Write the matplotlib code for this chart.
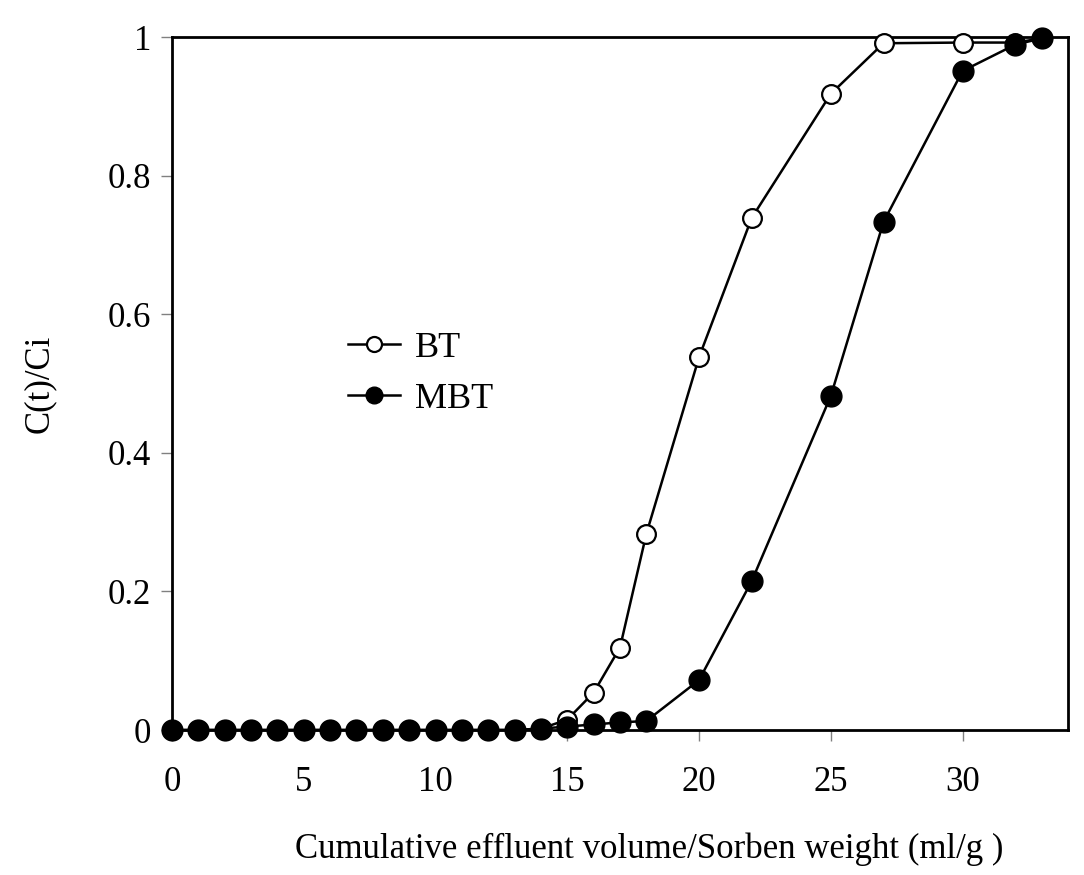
import numpy as np
import matplotlib.pyplot as plt

plt.rcParams['font.family'] = ['Liberation Serif', 'DejaVu Serif']

# data
x_vals = [0, 1, 2, 3, 4, 5, 6, 7, 8, 9, 10, 11, 12, 13, 14, 15, 16, 17, 18, 20, 22, 25, 27, 30, 32, 33]
bt = [0, 0, 0, 0, 0, 0, 0, 0, 0, 0, 0, 0, 0, 0, 0.002, 0.015, 0.054, 0.119, 0.283,
      0.538, 0.739, 0.918, 0.991, 0.992, 0.992, 0.998]
mbt = [0, 0, 0, 0, 0, 0, 0, 0, 0, 0, 0, 0, 0, 0, 0.002, 0.005, 0.008, 0.011, 0.013,
       0.072, 0.215, 0.482, 0.733, 0.951, 0.989, 0.998]
x_ticks = [0, 5, 10, 15, 20, 25, 30]
y_ticks = [0, 0.2, 0.4, 0.6, 0.8, 1]
y_ticklabels = ['0', '0.2', '0.4', '0.6', '0.8', '1']

fig = plt.figure(figsize=(10.84, 8.75), dpi=100)
ax = fig.add_axes([0.1587, 0.1657, 0.9852 - 0.1587, 0.9577 - 0.1657])

ax.plot(x_vals, bt, color='black', lw=1.8, marker='o', ms=13.5, mfc='white',
        mec='black', mew=1.6, clip_on=False, zorder=3, label='BT')
ax.plot(x_vals, mbt, color='black', lw=1.8, marker='o', ms=15, mfc='black',
        mec='black', clip_on=False, zorder=4, label='MBT')

ax.set_xlim(0, 34)
ax.set_ylim(0, 1)
ax.set_xticks(x_ticks)
ax.set_yticks(y_ticks)
ax.set_yticklabels(y_ticklabels)
ax.tick_params(direction='out', length=8, width=1, color='gray', labelsize=25)
ax.tick_params(axis='x', pad=18)
ax.tick_params(axis='y', pad=7)
for s in ax.spines.values():
    s.set_linewidth(2)
    s.set_color('black')

ax.set_xlabel('Cumulative effluent volume/Sorben weight (ml/g )', fontsize=25)
ax.xaxis.set_label_coords(0.533, -0.148)
ax.set_ylabel('C(t)/Ci', fontsize=25)
ax.yaxis.set_label_coords(-0.13, 0.5)

leg = ax.legend(loc='upper left', bbox_to_anchor=(0.16, 0.622), frameon=False,
                fontsize=26, handlelength=1.45, markerscale=0.8, labelspacing=0.5,
                handletextpad=0.4)

fig.savefig('out.png', dpi=100)
